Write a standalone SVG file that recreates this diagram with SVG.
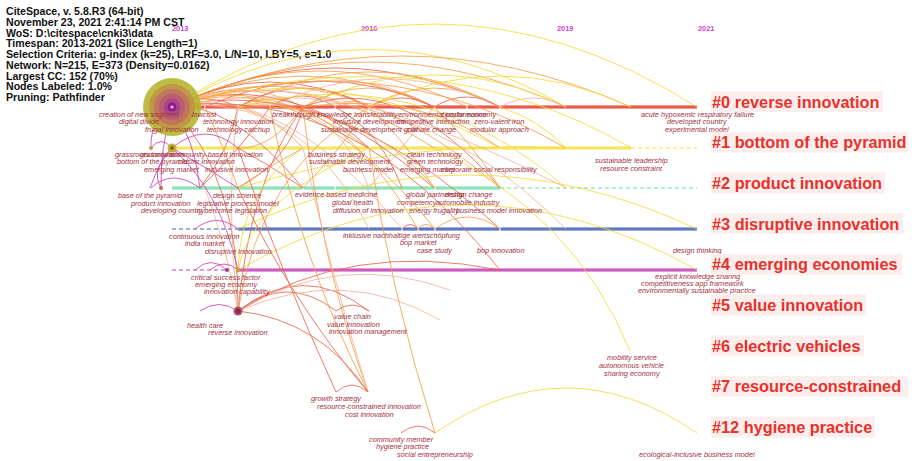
<svg xmlns="http://www.w3.org/2000/svg" width="916" height="461" viewBox="0 0 916 461">
<style>
.hd{font-family:"Liberation Sans",Arial,sans-serif;font-weight:bold;font-size:10.6px;fill:#111}
.yr{font-family:"Liberation Sans",Arial,sans-serif;font-weight:bold;font-size:7.4px;fill:#cc44cc}
.kw{font-family:"Liberation Sans",Arial,sans-serif;font-style:italic;font-size:7.3px;fill:#a3303c}
.cl{font-family:"Liberation Sans",Arial,sans-serif;font-weight:bold;font-size:16.3px;fill:#e8312a}
.clb{fill:#fdeeee}
.arc path{fill:none;stroke-width:1;opacity:.85}
.ay{stroke:#f5d93a}
.ao{stroke:#f5a04a}
.ar{stroke:#e8664e}
.am{stroke:#cc44aa}
.ap{stroke:#f4b49a}
.tl line{stroke-width:3}
.tl .in{stroke-width:1}
.dash{stroke-dasharray:4 3;stroke-width:1.2!important}
.gap line{stroke:#fff;stroke-width:1.2}
</style>

<g id="header">
<text class="hd" x="6" y="15">CiteSpace, v. 5.8.R3 (64-bit)</text>
<text class="hd" x="6" y="25.75">November 23, 2021 2:41:14 PM CST</text>
<text class="hd" x="6" y="36.5">WoS: D:\citespace\cnki3\data</text>
<text class="hd" x="6" y="47.25">Timespan: 2013-2021 (Slice Length=1)</text>
<text class="hd" x="6" y="58">Selection Criteria: g-index (k=25), LRF=3.0, L/N=10, LBY=5, e=1.0</text>
<text class="hd" x="6" y="68.75">Network: N=215, E=373 (Density=0.0162)</text>
<text class="hd" x="6" y="79.5">Largest CC: 152 (70%)</text>
<text class="hd" x="6" y="90.25">Nodes Labeled: 1.0%</text>
<text class="hd" x="6" y="101">Pruning: Pathfinder</text>
</g>

<g id="years">
<text class="yr" x="172" y="31">2013</text>
<text class="yr" x="361" y="31">2016</text>
<text class="yr" x="557" y="31">2019</text>
<text class="yr" x="698" y="31">2021</text>
</g>

<g id="timelines" class="tl">
<line x1="172" y1="107" x2="697" y2="107" stroke="#e4392c"/>
<line class="in" x1="172" y1="107" x2="697" y2="107" stroke="#f27a66"/>
<line x1="172" y1="148" x2="631" y2="148" stroke="#f2e13c"/>
<line class="in" x1="172" y1="148" x2="631" y2="148" stroke="#f8ee88"/>
<line x1="631" y1="148" x2="697" y2="148" stroke="#f2e13c" class="dash"/>
<line x1="172" y1="188" x2="500" y2="188" stroke="#6fdca8"/>
<line class="in" x1="172" y1="188" x2="500" y2="188" stroke="#a8ecc8"/>
<line x1="500" y1="188" x2="697" y2="188" stroke="#6fdca8" class="dash"/>
<line x1="172" y1="229" x2="238" y2="229" stroke="#3c5fae" class="dash"/>
<line x1="238" y1="229" x2="697" y2="229" stroke="#3c5fae"/>
<line class="in" x1="238" y1="229" x2="697" y2="229" stroke="#7a96d0"/>
<line x1="172" y1="270" x2="228" y2="270" stroke="#c23cb0" class="dash"/>
<line x1="238" y1="270" x2="697" y2="270" stroke="#c23cb0"/>
<line class="in" x1="238" y1="270" x2="697" y2="270" stroke="#d878cc"/>
</g>
<g id="gaps" class="gap">
<line x1="205" y1="105" x2="205" y2="109"/>
<line x1="238" y1="105" x2="238" y2="109"/>
<line x1="270" y1="105" x2="270" y2="109"/>
<line x1="335" y1="105" x2="335" y2="109"/>
<line x1="369" y1="105" x2="369" y2="109"/>
<line x1="435" y1="105" x2="435" y2="109"/>
<line x1="467" y1="105" x2="467" y2="109"/>
<line x1="500" y1="105" x2="500" y2="109"/>
<line x1="303" y1="146" x2="303" y2="150"/>
<line x1="369" y1="146" x2="369" y2="150"/>
<line x1="500" y1="146" x2="500" y2="150"/>
<line x1="303" y1="186" x2="303" y2="190"/>
<line x1="335" y1="186" x2="335" y2="190"/>
<line x1="435" y1="186" x2="435" y2="190"/>
<line x1="402" y1="227" x2="402" y2="231"/>
<line x1="418" y1="227" x2="418" y2="231"/>
<line x1="435" y1="227" x2="435" y2="231"/>
<line x1="500" y1="227" x2="500" y2="231"/>
</g>

<g id="connectors" class="arc">
<!-- row 0 domes -->
<path class="ay" d="M172 107 Q434 -59 697 107"/>
<path class="ay" d="M172 107 Q369 -8 566 107"/>
<path class="ao" d="M172 107 Q401 5 631 107"/>
<path class="ao" d="M172 107 Q369 17 566 107"/>
<path class="ar" d="M172 107 Q336 29 500 107"/>
<path class="ao" d="M172 107 Q303 45 434 107"/>
<path class="ar" d="M172 107 Q270 57 369 107"/>
<path class="ao" d="M172 107 Q238 73 303 107"/>
<path class="ar" d="M172 107 Q205 91 238 107"/>
<path class="ao" d="M238 107 Q369 37 500 107"/>
<path class="ap" d="M238 107 Q336 53 434 107"/>
<path class="ay" d="M303 107 Q434 43 566 107"/>
<path class="ao" d="M303 107 Q369 69 434 107"/>
<path class="ao" d="M369 107 Q434 69 500 107"/>
<path class="ar" d="M434 107 Q467 87 500 107"/>
<path class="ar" d="M369 107 Q401 89 434 107"/>
<path class="ap" d="M500 107 Q533 89 566 107"/>
<path class="ar" d="M238 107 Q303 69 369 107"/>
<path class="ao" d="M238 107 Q270 91 303 107"/>
<path class="ay" d="M369 107 Q500 45 631 107"/>
<path class="ao" d="M172 107 Q320 35 467 107"/>
<path class="ar" d="M205 107 Q320 55 435 107"/>
<path class="ap" d="M270 107 Q385 50 500 107"/>
<path class="ao" d="M335 107 Q352 95 369 107"/>
<path class="ar" d="M270 107 Q302 85 335 107"/>
<!-- row 0 to lower rows -->
<path class="ay" d="M172 107 Q430 30 631 148"/>
<path class="ao" d="M172 107 Q330 40 500 188"/>
<path class="ar" d="M172 107 Q290 60 434 188"/>
<path class="ao" d="M172 107 Q260 70 369 148"/>
<path class="ao" d="M172 107 Q300 60 434 148"/>
<path class="ay" d="M172 107 Q330 55 500 148"/>
<path class="ao" d="M172 107 Q300 60 435 229"/>
<path class="ar" d="M172 107 Q330 70 500 229"/>
<path class="ap" d="M172 107 Q280 80 402 229"/>
<path class="ao" d="M172 107 Q250 90 303 148"/>
<path class="ar" d="M172 107 Q230 100 303 188"/>
<path class="ap" d="M172 107 Q300 50 566 188"/>
<path class="ao" d="M238 107 Q330 80 418 229"/>
<path class="ar" d="M303 107 Q400 70 500 188"/>
<path class="ao" d="M303 107 Q420 90 500 148"/>
<path class="ap" d="M238 107 Q330 90 369 188"/>
<path class="ar" d="M303 107 Q290 160 238 188"/>
<path class="ao" d="M369 107 Q340 150 303 188"/>
<path class="ar" d="M238 107 Q230 150 200 188"/>
<path class="ao" d="M303 107 Q270 150 238 148"/>
<path class="ap" d="M434 107 Q400 150 369 188"/>
<path class="ao" d="M172 107 Q380 40 566 148"/>
<path class="ap" d="M172 107 Q400 60 566 229"/>
<path class="ay" d="M238 107 Q420 60 566 188"/>
<path class="ar" d="M172 107 Q350 80 500 270"/>
<path class="ao" d="M205 107 Q225 150 238 188"/>
<path class="ar" d="M270 107 Q240 150 200 188"/>
<path class="ao" d="M303 148 Q270 165 238 188"/>
<path class="ar" d="M238 148 Q270 165 303 188"/>
<path class="ao" d="M434 107 Q470 140 500 188"/>
<path class="ay" d="M500 107 Q540 120 566 148"/>
<path class="ao" d="M369 107 Q405 140 434 188"/>
<path class="ar" d="M303 107 Q340 120 369 148"/>
<path class="ap" d="M172 107 Q300 90 369 229"/>
<path class="ao" d="M238 107 Q360 100 435 188"/>
<path class="ar" d="M335 107 Q380 130 402 188"/>
<!-- long yellow domes rows 3,4 -->
<path class="ay" d="M238 229 Q467 121 697 229"/>
<path class="ay" d="M238 270 Q467 140 697 270"/>
<path class="ay" d="M238 188 Q400 140 566 148"/>
<!-- lines down to row 4/5 node at 238 -->
<path class="ar" d="M172 107 Q240 180 238 311"/>
<path class="ar" d="M303 107 Q250 180 238 311"/>
<path class="ao" d="M369 107 Q260 170 238 311"/>
<path class="ay" d="M303 148 Q240 190 238 270"/>
<path class="am" d="M172 148 Q220 190 238 270"/>
<path class="ap" d="M238 107 Q225 200 238 311"/>
<path class="ay" d="M369 148 Q250 200 238 270"/>
<path class="ap" d="M205 188 Q225 240 238 311"/>
<!-- lines to row 7 node -->
<path class="ar" d="M238 148 Q280 270 336 392"/>
<path class="ao" d="M270 107 Q300 260 368 392"/>
<path class="ao" d="M303 107 Q320 260 368 392"/>
<path class="ap" d="M303 148 Q330 270 368 392"/>
<path class="ar" d="M238 188 Q290 300 368 392"/>
<path class="ar" d="M238 311 Q320 320 368 392"/>
<path class="ar" d="M336 392 Q352 378 368 392"/>
<!-- to row 12 -->
<path class="ao" d="M369 148 Q390 290 435 433"/>
<path class="ar" d="M401 433 Q418 419 435 433"/>
<path class="ay" d="M435 433 Q566 343 697 433"/>
<!-- to row 6 -->
<path class="ay" d="M434 148 Q575 215 630 351"/>
<!-- row 5 arcs -->
<path class="ar" d="M238 311 Q287 273 336 311"/>
<path class="ar" d="M238 311 Q303 260 369 311"/>
<path class="ar" d="M336 311 Q352 299 369 311"/>
<path class="ap" d="M238 311 Q340 250 450 290"/>
<path class="ar" d="M238 311 Q350 240 500 270"/>
<path class="ap" d="M238 311 Q345 265 440 320"/>
<path class="am" d="M200 311 Q219 298 238 311"/>
<!-- row 3 / row 4 small arcs -->
<path class="ar" d="M402 229 Q410 220 418 229"/>
<path class="ao" d="M418 229 Q426 220 435 229"/>
<path class="ao" d="M435 229 Q467 205 500 229"/>
<path class="am" d="M195 229 Q216 212 238 229"/>
<path class="am" d="M195 270 Q211 255 227 270"/>
<path class="am" d="M210 270 Q224 258 238 270"/>
<!-- left magenta structure -->
<path class="am" d="M172 107 Q150 120 151 148"/>
<path class="am" d="M172 107 Q160 150 161 188"/>
<path class="am" d="M151 148 Q161 135 172 148"/>
<path class="am" d="M172 148 Q205 120 238 148"/>
<path class="am" d="M151 188 Q172 168 200 188"/>
<path class="am" d="M172 148 Q150 170 161 188"/>
<path class="am" d="M172 148 Q210 170 238 188"/>
<path class="am" d="M172 107 Q195 140 200 188"/>
<path class="am" d="M150 188 Q160 160 172 148"/>
</g>

<g id="nodes">
<g id="n0">
<circle cx="172" cy="107" r="29" fill="#b6b530" opacity="0.9"/>
<circle cx="172" cy="107" r="23" fill="#c09048" opacity="0.85"/>
<circle cx="172" cy="107" r="18" fill="#c0705e" opacity="0.85"/>
<circle cx="172" cy="107" r="13" fill="#b85a78" opacity="0.85"/>
<circle cx="172" cy="107" r="8.5" fill="#a84488" opacity="0.9"/>
<circle cx="172" cy="107" r="4.5" fill="#8e1c8a"/>
<circle cx="172" cy="107" r="1.6" fill="#f0c0f0"/>
</g>
<g id="n1"><circle cx="172" cy="148" r="4.5" fill="#c2b238"/><circle cx="172" cy="148" r="2" fill="#8e5a30"/></g>
<g id="n1b"><circle cx="151" cy="148" r="2" fill="#b0a040"/></g>
<g id="n2"><circle cx="161" cy="188" r="2" fill="#b07050"/></g>
<g id="n4a"><circle cx="227" cy="270" r="2" fill="#9a3a8a"/></g>
<g id="n4b"><circle cx="238" cy="270" r="2.4" fill="#c8a040"/></g>
<g id="n5"><circle cx="238" cy="311" r="4.5" fill="#b05068"/><circle cx="238" cy="311" r="2.5" fill="#8a2a48"/></g>
</g>

<g id="keywords">
<text class="kw" x="99" y="116.7">creation of new segment</text>
<text class="kw" x="192" y="116.7">lowcost</text>
<text class="kw" x="119" y="124.3">digital divide</text>
<text class="kw" x="203" y="124.3">technology innovation</text>
<text class="kw" x="145" y="132">frugal innovation</text>
<text class="kw" x="207" y="132">technology catchup</text>
<text class="kw" x="272" y="116.7">breakthrough r</text>
<text class="kw" x="317" y="116.7">knowledge transferability</text>
<text class="kw" x="398" y="116.7">environmental performance</text>
<text class="kw" x="441" y="116.7">circular economy</text>
<text class="kw" x="333" y="124.3">inclusive development</text>
<text class="kw" x="397" y="124.3">competitive interaction</text>
<text class="kw" x="474" y="124.3">zero-valent iron</text>
<text class="kw" x="321" y="132">sustainable development goal</text>
<text class="kw" x="407" y="132">climate change</text>
<text class="kw" x="470" y="132">modular approach</text>
<text class="kw" x="641" y="116.7">acute hypoxemic respiratory failure</text>
<text class="kw" x="667" y="124.3">developed country</text>
<text class="kw" x="665" y="132">experimental model</text>

<text class="kw" x="115" y="156.7">grassroots innovation</text>
<text class="kw" x="140" y="156.7">grassroots</text>
<text class="kw" x="170" y="156.7">community-based innovation</text>
<text class="kw" x="117" y="164">bottom of the pyramid</text>
<text class="kw" x="178" y="164">cluster innovation</text>
<text class="kw" x="144" y="171.7">emerging market</text>
<text class="kw" x="205" y="171.7">inclusive innovation</text>
<text class="kw" x="308" y="156.7">business strategy</text>
<text class="kw" x="309" y="164">sustainable development</text>
<text class="kw" x="343" y="171.7">business model</text>
<text class="kw" x="407" y="156.7">clean technology</text>
<text class="kw" x="407" y="164">green technology</text>
<text class="kw" x="400" y="171.7">emerging market</text>
<text class="kw" x="441" y="171.7">corporate social responsibility</text>
<text class="kw" x="595" y="163.3">sustainable leadership</text>
<text class="kw" x="600" y="170.7">resource constraint</text>

<text class="kw" x="118" y="198.3">base of the pyramid</text>
<text class="kw" x="213" y="198.3">design science</text>
<text class="kw" x="131" y="206">product innovation</text>
<text class="kw" x="197" y="206">legislative process model</text>
<text class="kw" x="141" y="213.3">developing country</text>
<text class="kw" x="197" y="213.3">cybercrime legislation</text>
<text class="kw" x="295" y="197.3">evidence based medicine</text>
<text class="kw" x="332" y="205">global health</text>
<text class="kw" x="333" y="212.7">diffusion of innovation</text>
<text class="kw" x="406" y="197.3">global partnership</text>
<text class="kw" x="445" y="197.3">design change</text>
<text class="kw" x="397" y="205">competency</text>
<text class="kw" x="436" y="205">automobile industry</text>
<text class="kw" x="409" y="212.7">energy frugality</text>
<text class="kw" x="456" y="212.7">business model innovation</text>

<text class="kw" x="169" y="239">continuous innovation</text>
<text class="kw" x="185" y="246">india market</text>
<text class="kw" x="205" y="253.7">disruptive innovation</text>
<text class="kw" x="343" y="237.7">inklusive nachhaltige wertschöpfung</text>
<text class="kw" x="400" y="245">bop market</text>
<text class="kw" x="417" y="252.7">case study</text>
<text class="kw" x="477" y="252.7">bop innovation</text>
<text class="kw" x="673" y="253.3">design thinking</text>

<text class="kw" x="191" y="280">critical success factor</text>
<text class="kw" x="195" y="287">emerging economy</text>
<text class="kw" x="204" y="294.3">innovation capability</text>
<text class="kw" x="655" y="279">explicit knowledge sharing</text>
<text class="kw" x="641" y="286">competitiveness app framework</text>
<text class="kw" x="638" y="293">environmentally sustainable practice</text>

<text class="kw" x="187" y="327.7">health care</text>
<text class="kw" x="208" y="335">reverse innovation</text>
<text class="kw" x="334" y="319">value chain</text>
<text class="kw" x="327" y="326.7">value innovation</text>
<text class="kw" x="329" y="334.3">innovation management</text>

<text class="kw" x="607" y="360">mobility service</text>
<text class="kw" x="599" y="367.7">autonomous vehicle</text>
<text class="kw" x="604" y="375.7">sharing economy</text>

<text class="kw" x="311" y="401">growth strategy</text>
<text class="kw" x="317" y="409">resource-constrained innovation</text>
<text class="kw" x="345" y="416.7">cost innovation</text>

<text class="kw" x="369" y="442.3">community member</text>
<text class="kw" x="376" y="449">hygiene practice</text>
<text class="kw" x="397" y="456.7">social entrepreneurship</text>
<text class="kw" x="639" y="457.3">ecological-inclusive business model</text>
</g>

<g id="clusters">
<g id="c0"><rect class="clb" x="711" y="91" width="172" height="21"/><text class="cl" x="712" y="107.5">#0 reverse innovation</text></g>
<g id="c1"><rect class="clb" x="711" y="131.7" width="197" height="21"/><text class="cl" x="712" y="148.2">#1 bottom of the pyramid</text></g>
<g id="c2"><rect class="clb" x="711" y="172.4" width="174" height="21"/><text class="cl" x="712" y="188.9">#2 product innovation</text></g>
<g id="c3"><rect class="clb" x="711" y="213.1" width="192" height="21"/><text class="cl" x="712" y="229.6">#3 disruptive innovation</text></g>
<g id="c4"><rect class="clb" x="711" y="253.8" width="191" height="21"/><text class="cl" x="712" y="270.3">#4 emerging economies</text></g>
<g id="c5"><rect class="clb" x="711" y="294.5" width="155" height="21"/><text class="cl" x="712" y="311">#5 value innovation</text></g>
<g id="c6"><rect class="clb" x="711" y="335.2" width="153" height="21"/><text class="cl" x="712" y="351.7">#6 electric vehicles</text></g>
<g id="c7"><rect class="clb" x="711" y="375.9" width="197" height="21"/><text class="cl" x="712" y="392.4">#7 resource-constrained</text></g>
<g id="c12"><rect class="clb" x="711" y="416.6" width="164" height="21"/><text class="cl" x="712" y="433.1">#12 hygiene practice</text></g>
</g>
</svg>
